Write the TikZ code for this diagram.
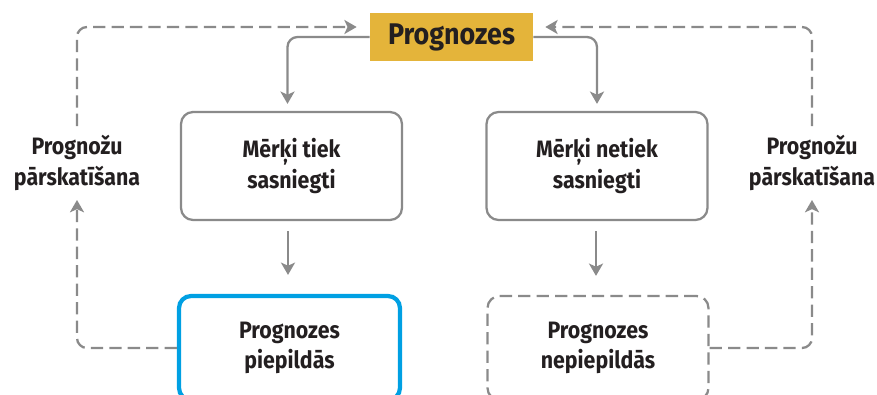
\documentclass[tikz,border=0pt]{standalone}
\usepackage{fontspec}
\setmainfont{Fira Sans}[FakeStretch=0.9]
\usetikzlibrary{arrows.meta}
\definecolor{gold}{HTML}{E4B43A}
\definecolor{skyblue}{HTML}{00A0E3}
\definecolor{midgray}{HTML}{8A8A8A}
\definecolor{ink}{HTML}{231F20}
\begin{document}
\begin{tikzpicture}[x=0.02cm,y=-0.02cm,
  every node/.style={text=ink,font=\bfseries\fontsize{13.5}{17.5}\selectfont,align=center},
  box/.style={draw=midgray,line width=1.3pt,rounded corners=0.24cm,minimum width=4.42cm},
  flow/.style={draw=midgray,line width=1.3pt,rounded corners=0.2cm,-{Stealth[length=7pt,width=8pt,inset=1.8pt]}},
  loop/.style={flow,dash pattern=on 7pt off 3.5pt}]
  \useasboundingbox (0,0) rectangle (877,395);
  \clip (0,0) rectangle (877,395);
  \node (title) at (451.5,37) [fill=gold,minimum width=3.26cm,minimum height=0.96cm,
    font=\bfseries\fontsize{17}{20}\selectfont] {Prognozes};
  \node (tiek) at (291.5,166) [box,minimum height=2.16cm] {Mērķi tiek\\sasniegti};
  \node (netiek) at (597,166) [box,minimum height=2.16cm] {Mērķi netiek\\sasniegti};
  \node (piepild) at (289.5,348) [box,draw=skyblue,line width=2.4pt,minimum height=2.08cm] {Prognozes\\piepildās};
  \node (nepiepild) at (598,348) [box,dash pattern=on 7pt off 3.5pt,minimum height=2.08cm] {Prognozes\\nepiepildās};
  \node (revL) at (77,163) [inner ysep=0.18cm] {Prognožu\\pārskatīšana};
  \node (revR) at (812,163) [inner ysep=0.18cm] {Prognožu\\pārskatīšana};
  \draw[flow,shorten >=0.14cm] (title.west) -| ([xshift=-0.08cm]tiek.north);
  \draw[flow,shorten >=0.14cm] (title.east) -| (netiek.north);
  \draw[flow,shorten <=0.2cm,shorten >=0.38cm] (tiek.south -| 288,0) -- (piepild.north -| 288,0);
  \draw[flow,shorten <=0.2cm,shorten >=0.38cm] (netiek.south -| 596,0) -- (nepiepild.north -| 596,0);
  \draw[loop] (piepild.west) -| (revL.south);
  \draw[loop] (nepiepild.east) -| (revR.south);
  \draw[loop,shorten >=0.26cm] (revL.north) |- ([yshift=0.2cm]title.west);
  \draw[loop,shorten >=0.24cm] (revR.north) |- ([yshift=0.2cm]title.east);
\end{tikzpicture}
\end{document}
